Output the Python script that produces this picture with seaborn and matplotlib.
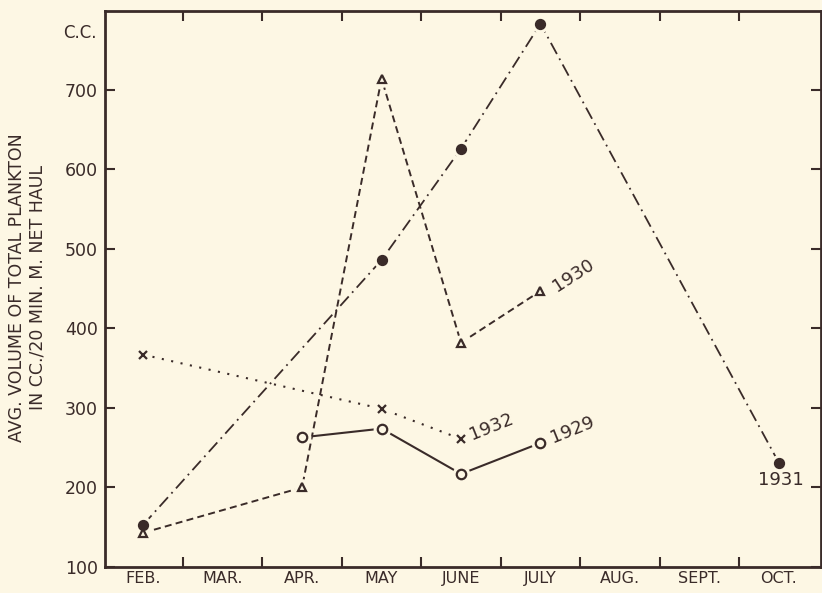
import numpy as np
import pandas as pd
import seaborn as sns
import matplotlib
matplotlib.use("Agg")
import matplotlib.pyplot as plt

# ── Data (c.c. per 20 min. haul) ──────────────────────────────────────
MONTHS = ["FEB.", "MAR.", "APR.", "MAY", "JUNE", "JULY", "AUG.", "SEPT.", "OCT."]

months_1929 = ["APR.", "MAY", "JUNE", "JULY"]
vol_1929    = [263, 274, 217, 256]

months_1930 = ["FEB.", "APR.", "MAY", "JUNE", "JULY"]
vol_1930    = [143, 200, 714, 382, 447]

months_1931 = ["FEB.", "MAY", "JUNE", "JULY", "OCT."]
vol_1931    = [153, 486, 626, 783, 231]

months_1932 = ["FEB.", "MAY", "JUNE"]
vol_1932    = [367, 299, 261]

Y_TICKS = [100, 200, 300, 400, 500, 600, 700]

BG  = "#fdf7e4"
INK = "#3a2b29"


def pos(labels):
    return np.array([MONTHS.index(m) for m in labels], dtype=float)


def main():
    sns.set_theme(style="white")
    plt.rcParams["font.family"] = ["DejaVu Sans"]

    fig = plt.figure(figsize=(8.22, 5.93), dpi=100, facecolor=BG)
    ax = fig.add_axes([0.1277, 0.0438, 0.8711, 0.9376], facecolor=BG)

    series = [
        # months, values, linestyle, lw, marker, ms, filled
        (months_1931, vol_1931, (0, (7, 2.8, 1, 2.8)), 1.3, "o", 6.5, True),
        (months_1930, vol_1930, (0, (3.6, 2.2)),       1.4, "^", 6.0, False),
        (months_1932, vol_1932, (0, (1, 3.6)),         1.5, "x", 6.0, False),
        (months_1929, vol_1929, "-",                   1.5, "o", 6.8, False),
    ]

    for months, vals, ls, lw, mk, ms, filled in series:
        x = pos(months)
        df = pd.DataFrame({"month": x, "vol": vals})
        sns.lineplot(data=df, x="month", y="vol", ax=ax, color=INK,
                     linestyle=ls, linewidth=lw, zorder=2, sort=False)
        # cream halo so the line stops short of the marker, as in the print
        ax.plot(x, vals, linestyle="none", marker="o", markersize=ms + 5,
                markerfacecolor=BG, markeredgecolor=BG, zorder=3)
        ax.plot(x, vals, linestyle="none", marker=mk, markersize=ms,
                markerfacecolor=INK if filled else BG, markeredgecolor=INK,
                markeredgewidth=1.6, zorder=4)

    # ── Series labels ──────────────────────────────────────────────────
    lab = dict(color=INK, fontsize=13, ha="center", va="center")
    ax.text(5.42, 467, "1930", rotation=33, **lab)
    ax.text(4.38, 276, "1932", rotation=22, **lab)
    ax.text(5.40, 273, "1929", rotation=22, **lab)
    ax.text(8.03, 209, "1931", rotation=0, **lab)

    # ── Axes ───────────────────────────────────────────────────────────
    ax.set_xlim(-0.48, 8.53)
    ax.set_ylim(100, 799)

    ax.set_xticks(np.arange(0.5, 8.0, 1.0))
    ax.set_xticklabels([])
    ax.set_xticks(np.arange(len(MONTHS)), minor=True)
    ax.set_xticklabels(MONTHS, minor=True)
    ax.set_yticks(Y_TICKS)
    ax.set_yticklabels([str(v) for v in Y_TICKS])

    ax.tick_params(which="major", direction="in", length=7, width=1.5,
                   color=INK, top=True, right=True, bottom=True, left=True,
                   labelsize=12.5, labelcolor=INK, pad=5)
    ax.tick_params(axis="x", which="minor", length=0, labelsize=11.5,
                   labelcolor=INK, pad=3)
    ax.set_xlabel("")
    ax.set_ylabel("")

    for sp in ax.spines.values():
        sp.set_visible(True)
        sp.set_color(INK)
        sp.set_linewidth(2.0)

    ax.text(-0.012, 772, "C.C.", transform=ax.get_yaxis_transform(),
            ha="right", va="center", fontsize=12, color=INK)

    fig.text(0.021, 0.515, "AVG. VOLUME OF TOTAL PLANKTON", rotation=90,
             ha="center", va="center", fontsize=12.5, color=INK)
    fig.text(0.046, 0.515, "IN CC./20 MIN. M. NET HAUL", rotation=90,
             ha="center", va="center", fontsize=12.5, color=INK)

    fig.savefig("out.png", dpi=100, facecolor=BG)
    plt.close(fig)


if __name__ == "__main__":
    main()
